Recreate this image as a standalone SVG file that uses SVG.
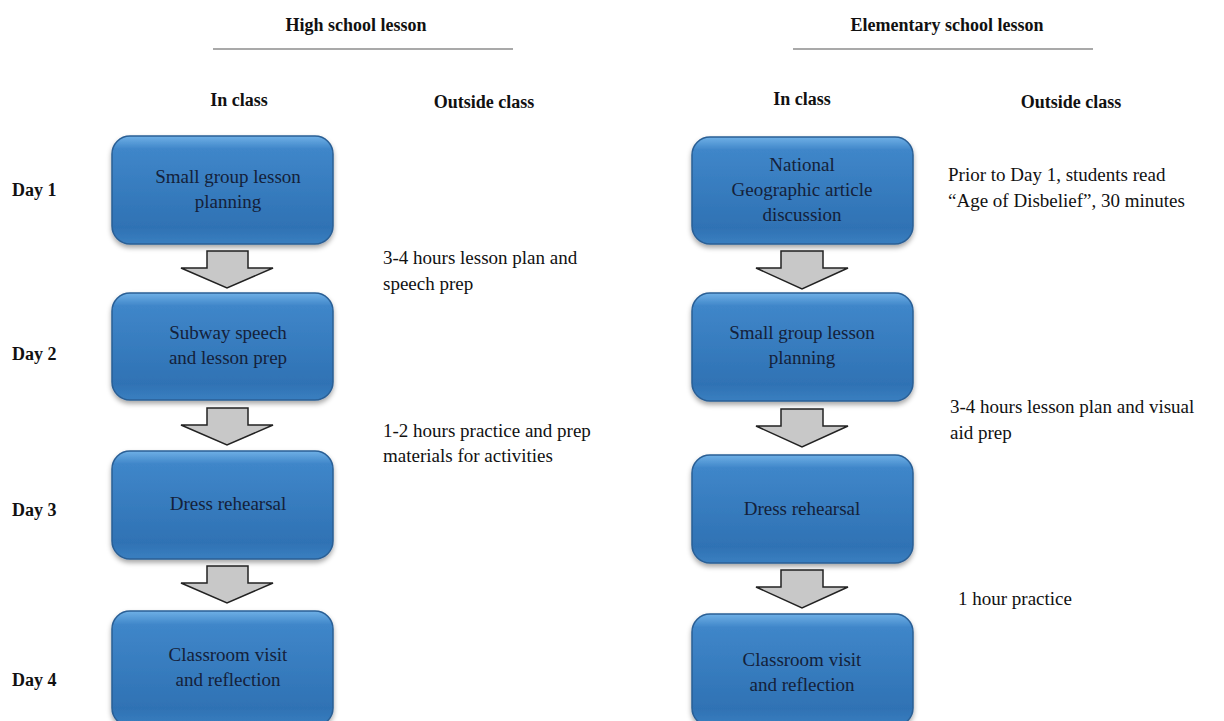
<svg xmlns="http://www.w3.org/2000/svg" width="1224" height="721" viewBox="0 0 1224 721">
<defs>
<linearGradient id="bg" x1="0" y1="0" x2="0" y2="1">
<stop offset="0" stop-color="#6fb0e6"/>
<stop offset="0.12" stop-color="#3f86c9"/>
<stop offset="0.85" stop-color="#2f72b4"/>
<stop offset="1" stop-color="#3a7fc0"/>
</linearGradient>
<filter id="sh" x="-10%" y="-10%" width="120%" height="130%">
<feDropShadow dx="0" dy="3" stdDeviation="2.5" flood-color="#000" flood-opacity="0.35"/>
</filter>
<style>
.bt,.t,.h{font-family:'Liberation Serif',serif}
.box{fill:url(#bg);stroke:#2a5f95;stroke-width:1.5;filter:url(#sh)}
.bt{font-size:19px;fill:#14213a;text-anchor:middle}
.t{font-size:19px;fill:#111}
.h{font-size:18px;font-weight:bold;fill:#111}
.arr{fill:#c8c8c8;stroke:#222;stroke-width:1.5;stroke-linejoin:miter}
</style>
</defs>
<rect width="1224" height="721" fill="#fff"/>
<g id="headers" font-family="Liberation Serif, serif">
<text class="h" x="356" y="31" text-anchor="middle">High school lesson</text>
<line x1="213" y1="49" x2="513" y2="49" stroke="#555" stroke-width="1.2"/>
<text class="h" x="947" y="31" text-anchor="middle">Elementary school lesson</text>
<line x1="793" y1="49" x2="1093" y2="49" stroke="#555" stroke-width="1.2"/>
<text class="h" x="239" y="106" text-anchor="middle">In class</text>
<text class="h" x="484" y="108" text-anchor="middle">Outside class</text>
<text class="h" x="802" y="105" text-anchor="middle">In class</text>
<text class="h" x="1071" y="108" text-anchor="middle">Outside class</text>
<text class="h" x="12" y="196">Day 1</text>
<text class="h" x="12" y="360">Day 2</text>
<text class="h" x="12" y="516">Day 3</text>
<text class="h" x="12" y="686">Day 4</text>
</g>
<g id="connectors">
<path class="arr" d="M207,251 H248 V268 H273 L227,288 L181,268 H207 Z"/>
<path class="arr" d="M207,408 H248 V425 H273 L227,445 L181,425 H207 Z"/>
<path class="arr" d="M207,566 H248 V583 H273 L227,603 L181,583 H207 Z"/>
<path class="arr" d="M781,251 H823 V268 H848 L802,289 L756,268 H781 Z"/>
<path class="arr" d="M781,409 H823 V426 H848 L802,447 L756,426 H781 Z"/>
<path class="arr" d="M781,570 H823 V587 H848 L802,608 L756,587 H781 Z"/>
</g>
<g id="hs1"><rect class="box" x="112" y="136" width="221" height="108" rx="18"/><text class="bt" x="228" y="183">Small group lesson</text><text class="bt" x="228" y="208">planning</text></g>
<g id="hs2"><rect class="box" x="112" y="293" width="221" height="107" rx="18"/><text class="bt" x="228" y="339">Subway speech</text><text class="bt" x="228" y="364">and lesson prep</text></g>
<g id="hs3"><rect class="box" x="112" y="451" width="221" height="108" rx="18"/><text class="bt" x="228" y="510">Dress rehearsal</text></g>
<g id="hs4"><rect class="box" x="112" y="611" width="221" height="115" rx="18"/><text class="bt" x="228" y="661">Classroom visit</text><text class="bt" x="228" y="686">and reflection</text></g>
<g id="el1"><rect class="box" x="692" y="137" width="221" height="107" rx="18"/><text class="bt" x="802" y="171">National</text><text class="bt" x="802" y="196">Geographic article</text><text class="bt" x="802" y="221">discussion</text></g>
<g id="el2"><rect class="box" x="692" y="293" width="221" height="108" rx="18"/><text class="bt" x="802" y="339">Small group lesson</text><text class="bt" x="802" y="364">planning</text></g>
<g id="el3"><rect class="box" x="692" y="455" width="221" height="108" rx="18"/><text class="bt" x="802" y="515">Dress rehearsal</text></g>
<g id="el4"><rect class="box" x="692" y="614" width="221" height="112" rx="18"/><text class="bt" x="802" y="666">Classroom visit</text><text class="bt" x="802" y="691">and reflection</text></g>
<g id="notes">
<text class="t" x="383" y="264">3-4 hours lesson plan and</text>
<text class="t" x="383" y="290">speech prep</text>
<text class="t" x="383" y="437">1-2 hours practice and prep</text>
<text class="t" x="383" y="462">materials for activities</text>
<text class="t" x="948" y="181">Prior to Day 1, students read</text>
<text class="t" x="948" y="207">“Age of Disbelief”, 30 minutes</text>
<text class="t" x="950" y="413">3-4 hours lesson plan and visual</text>
<text class="t" x="950" y="439">aid prep</text>
<text class="t" x="958" y="605">1 hour practice</text>
</g>
</svg>
